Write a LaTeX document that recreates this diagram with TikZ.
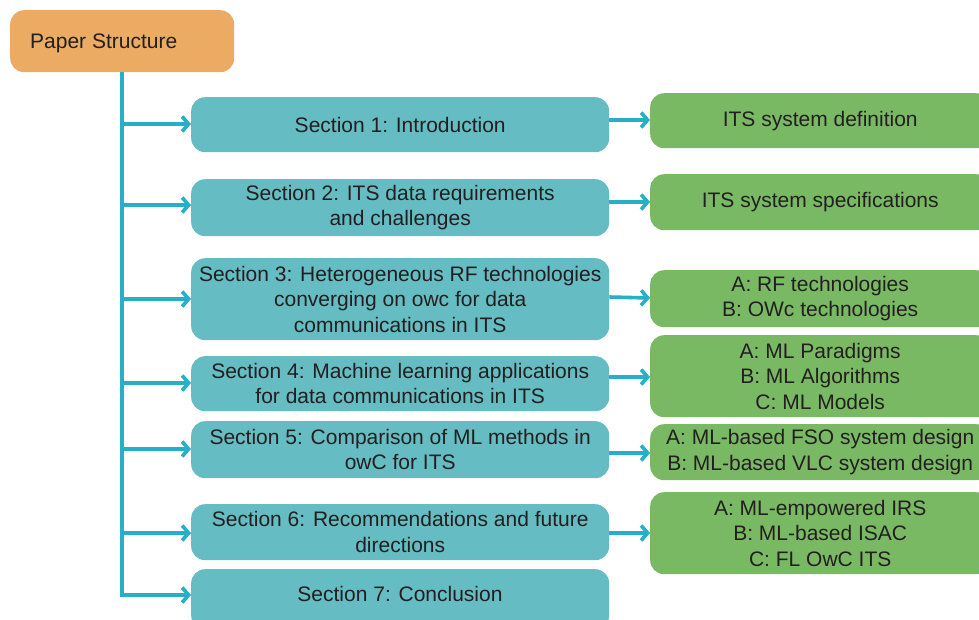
\documentclass[tikz,border=0pt]{standalone}
\usepackage{fontspec}
\setmainfont{Liberation Sans}
\usetikzlibrary{arrows.meta}
\definecolor{orangebox}{HTML}{EBAB63}
\definecolor{tealbox}{HTML}{65BCC2}
\definecolor{greenbox}{HTML}{7AB964}
\definecolor{linkc}{HTML}{26AFC7}
\definecolor{txt}{HTML}{231F20}
\tikzset{
  base/.style={rounded corners=14pt, inner sep=0pt, text=txt, align=center,
    font=\fontsize{21}{25.5}\selectfont, anchor=north west},
  rootbox/.style={base, fill=orangebox},
  secbox/.style={base, fill=tealbox, minimum width=418pt},
  resbox/.style={base, fill=greenbox, minimum width=340pt},
  link/.style={draw=linkc, line width=3.6pt, -{Straight Barb[length=6.5pt,width=15pt,line width=3.6pt]}},
  trunk/.style={draw=linkc, line width=3.6pt}
}
\begin{document}
\begin{tikzpicture}[x=1pt,y=-1pt]
\useasboundingbox (0,0) rectangle (979,619);
\clip (0,0) rectangle (979,619);
\fill[white] (0,0) rectangle (979,619);
% root
\node[rootbox, minimum width=224pt, minimum height=62pt] (root) at (10,10) {};
\node[anchor=west, text=txt, font=\fontsize{21}{25.5}\selectfont, inner sep=0pt] (roottxt) at (30,43) {Paper Structure};
% sections
\node[secbox, minimum height=55pt] (s1) at (191,97) {Section 1: Introduction};
\node[secbox, minimum height=57pt] (s2) at (191,179) {Section 2: ITS data requirements\\and challenges};
\node[secbox, minimum height=82pt] (s3) at (191,258) {Section 3: Heterogeneous RF technologies\\converging on owc for data\\communications in ITS};
\node[secbox, minimum height=55pt] (s4) at (191,356) {Section 4: Machine learning applications\\for data communications in ITS};
\node[secbox, minimum height=57pt] (s5) at (191,421) {Section 5: Comparison of ML methods in\\owC for ITS};
\node[secbox, minimum height=56pt] (s6) at (191,504) {Section 6: Recommendations and future\\directions};
\node[secbox, minimum height=60pt] (s7) at (191,569) {};
\node[text=txt, font=\fontsize{21}{25.5}\selectfont, inner sep=0pt] (s7t) at (400,594) {Section 7: Conclusion};
% results
\node[resbox, minimum height=55pt] (g1) at (650,93) {ITS system definition};
\node[resbox, minimum height=56pt] (g2) at (650,174) {ITS system specifications};
\node[resbox, minimum height=57pt] (g3) at (650,270) {A: RF technologies\\B: OWc technologies};
\node[resbox, minimum height=82pt] (g4) at (650,335) {A: ML Paradigms\\B: ML Algorithms\\C: ML Models};
\node[resbox, minimum height=56pt] (g5) at (650,424) {A: ML-based FSO system design\\B: ML-based VLC system design};
\node[resbox, minimum height=82pt] (g6) at (650,492) {A: ML-empowered IRS\\B: ML-based ISAC\\C: FL OwC ITS};
% trunk
\coordinate (top) at (122,72);
\coordinate (b1) at (122,124);
\coordinate (b2) at (122,205);
\coordinate (b3) at (122,299);
\coordinate (b4) at (122,383);
\coordinate (b5) at (122,449);
\coordinate (b6) at (122,533);
\coordinate (b7) at (122,595);
\draw[trunk] (top) -- (b7);
\foreach \i/\y in {1/124,2/205,3/299,4/383,5/449,6/533}{
  \draw[link] (b\i) -- (s\i.west |- 0,\y);
}
\draw[link] (120.2,595) -- (s7.west |- 0,595);
% section to results
\draw[link] (s1.east |- 0,120) -- (g1.west |- 0,120);
\draw[link] (s2.east |- 0,202) -- (g2.west |- 0,202);
\draw[link] (s3.east |- 0,297) -- (g3.west |- 0,298);
\draw[link] (s4.east |- 0,377) -- (g4.west |- 0,377);
\draw[link] (s5.east |- 0,453) -- (g5.west |- 0,453);
\draw[link] (s6.east |- 0,533) -- (g6.west |- 0,533);
\end{tikzpicture}
\end{document}
